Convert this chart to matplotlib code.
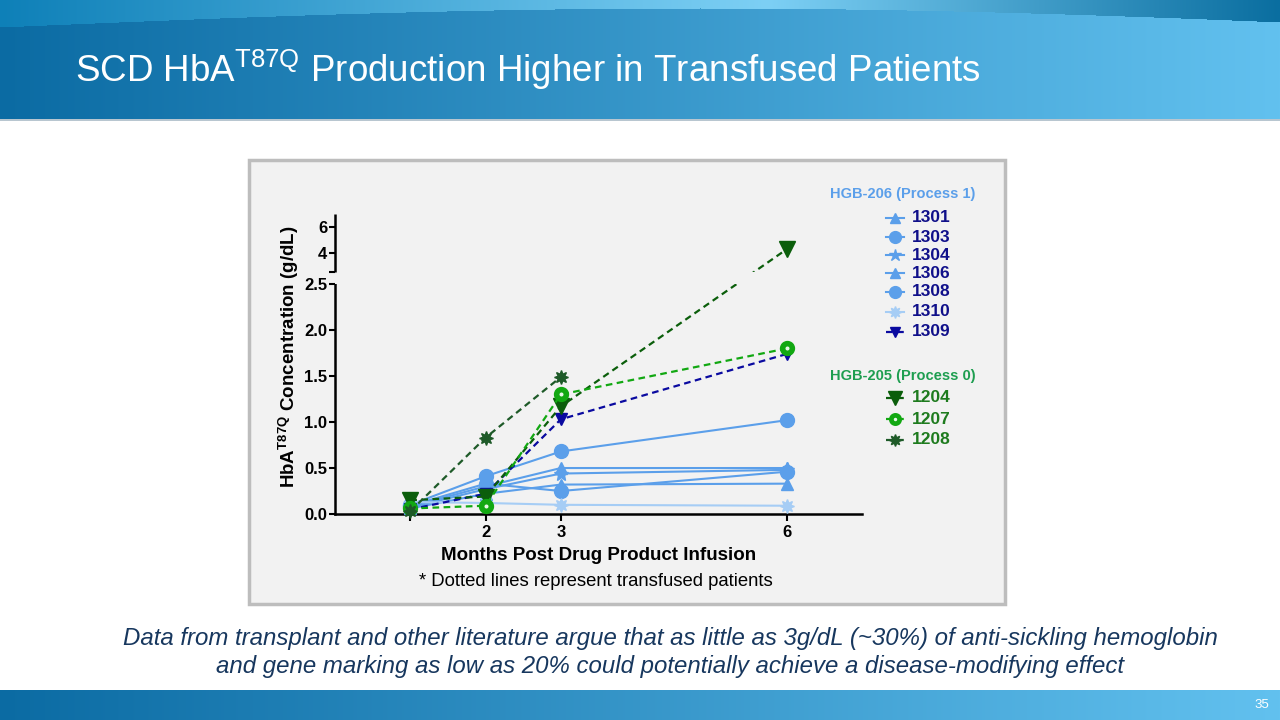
import numpy as np
import matplotlib
matplotlib.use("Agg")
import matplotlib.pyplot as plt
from matplotlib.patches import Rectangle

plt.rcParams['font.family'] = ['Liberation Sans', 'DejaVu Sans']

# ---------------- data ----------------
months = [1, 2, 3, 6]
x_ticks = [1, 2, 3, 6]
x_ticklabels = ['', '2', '3', '6']
y_ticks = [0.0, 0.5, 1.0, 1.5, 2.0, 2.5, 4, 6]
y_ticklabels = ['0.0', '0.5', '1.0', '1.5', '2.0', '2.5', '4', '6']

v1301 = [0.08, 0.30, 0.50, 0.50]
v1303 = [0.10, 0.41, 0.68, 1.02]
v1304 = [0.07, 0.27, 0.44, 0.48]
v1306 = [0.06, 0.22, 0.32, 0.33]
v1308 = [0.09, 0.33, 0.25, 0.46]
v1310 = [0.13, 0.12, 0.10, 0.09]
v1309 = [0.05, 0.22, 1.03, 1.74]

v1204 = [0.15, 0.19, 1.17, 4.3]
v1207 = [0.06, 0.09, 1.30, 1.80]
v1208 = [0.03, 0.83, 1.49]
m1208 = [1, 2, 3]

# ---------------- styles ----------------
LB = '#5B9FEA'
LB2 = '#A6CDF5'
NAVY = '#0A0AA0'
DG = '#0B5E0B'
BG = '#12A812'
DG2 = '#1E5A28'
DASH = (0, (3, 2))

series = [
    ('1301', months, v1301, dict(color=LB, marker='^', ms=9, ls='-', lw=1.5)),
    ('1303', months, v1303, dict(color=LB, marker='o', ms=10, ls='-', lw=1.5)),
    ('1304', months, v1304, dict(color=LB, marker='*', ms=11, ls='-', lw=1.5)),
    ('1306', months, v1306, dict(color=LB, marker='^', ms=9, ls='-', lw=1.5)),
    ('1308', months, v1308, dict(color=LB, marker='o', ms=10, ls='-', lw=1.5)),
    ('1310', months, v1310, dict(color=LB2, marker=(8, 1, 0), ms=10, ls='-', lw=1.5)),
    ('1309', months, v1309, dict(color=NAVY, marker='v', ms=9, ls=DASH, lw=1.6)),
    ('1204', months, v1204, dict(color=DG, marker='v', ms=12, ls=DASH, lw=1.6)),
    ('1207', months, v1207, dict(color=BG, marker='o', ms=7, mfc='#E8F8E8', mew=4, ls=DASH, lw=1.6)),
    ('1208', m1208, v1208, dict(color=DG2, marker=(8, 1, 0), ms=10, ls=DASH, lw=1.6)),
]

W, H = 1280, 720
fig = plt.figure(figsize=(12.8, 7.2), dpi=100)
fig.patch.set_facecolor('white')

# ---------------- background (header / footer / panel) ----------------
bg = fig.add_axes([0, 0, 1, 1], zorder=0)
bg.set_xlim(0, W)
bg.set_ylim(H, 0)
bg.axis('off')

xs = np.linspace(0, 1, W)
c_left = np.array([11, 107, 163]) / 255
c_right = np.array([98, 193, 239]) / 255
main = c_left[None, :] * (1 - xs[:, None]) + c_right[None, :] * xs[:, None]
tl = np.array([14, 128, 184]) / 255
tm = np.array([125, 208, 245]) / 255
tr = np.array([10, 110, 160]) / 255
top = np.where((xs < 0.6)[:, None],
               tl[None, :] * (1 - xs[:, None] / 0.6) + tm[None, :] * (xs[:, None] / 0.6),
               tm[None, :] * (1 - (xs[:, None] - 0.6) / 0.4) + tr[None, :] * ((xs[:, None] - 0.6) / 0.4))
hh = 120
img = np.zeros((hh, W, 3))
px = np.arange(W)
boundary = 27 - 19 * np.sin(np.pi * np.clip(px / 1400, 0, 1))
for yy in range(hh):
    mask = yy < boundary
    img[yy] = np.where(mask[:, None], top, main)
bg.imshow(img, extent=(0, W, hh, 0), aspect='auto', interpolation='bilinear')
bg.imshow(main[None, :, :], extent=(0, W, H, 690), aspect='auto')
bg.add_patch(Rectangle((0, 119), W, 2, color='#B8C6D0', lw=0))

bg.text(75, 70, r'SCD HbA$^{\mathregular{T87Q}}$ Production Higher in Transfused Patients',
        color='white', fontsize=26.5, va='center', ha='left')
bg.text(1262, 705, '35', color='white', fontsize=9.5, ha='center', va='center')

# chart panel
bg.add_patch(Rectangle((249, 160), 756, 444, facecolor='#F2F2F2', edgecolor='#BDBDBD', lw=2.5))

bg.text(670, 638, 'Data from transplant and other literature argue that as little as 3g/dL (~30%) of anti-sickling hemoglobin',
        color='#17375E', fontsize=17.3, style='italic', ha='center', va='center')
bg.text(670, 667, 'and gene marking as low as 20% could potentially achieve a disease-modifying effect',
        color='#17375E', fontsize=17.3, style='italic', ha='center', va='center')

# ---------------- chart ----------------
L, R, B, T = 335, 862, 514, 214
ax = fig.add_axes([L / W, 1 - B / H, (R - L) / W, (B - T) / H], zorder=2)
ax.set_facecolor('none')

g = 12 / 91.6
k = 13 / 91.6
xp = np.array([0.0, 2.5, 2.55, 7.0])
fp = np.array([0.0, 2.5, 2.5 + g, 2.5 + g + (7.0 - 2.55) * k])


def fwd(v):
    v = np.asarray(v, dtype=float)
    return np.where(v < 0, v, np.where(v > 7, fp[-1] + (v - 7) * k, np.interp(v, xp, fp)))


def inv(t):
    t = np.asarray(t, dtype=float)
    return np.where(t < 0, t, np.where(t > fp[-1], 7 + (t - fp[-1]) / k, np.interp(t, fp, xp)))


ax.set_yscale('function', functions=(fwd, inv))

for name, xv, yv, st in series:
    ax.plot(xv, yv, zorder=3, clip_on=False, **st)

ax.set_xlim(0, 7)
ax.set_ylim(0, 7)

# mask the broken region
ax.axhspan(2.5, 2.55, color='#F2F2F2', zorder=4, lw=0)

ax.spines['top'].set_visible(False)
ax.spines['right'].set_visible(False)
ax.spines['left'].set_bounds(0, 2.5)
for s in ['left', 'bottom']:
    ax.spines[s].set_linewidth(1.8)
ax.plot([0, 0], [2.55, 7.0], transform=ax.get_yaxis_transform(), color='black',
        lw=1.8, clip_on=False, zorder=5, solid_capstyle='butt')

ax.set_yticks(y_ticks)
ax.set_yticklabels(y_ticklabels)
ax.set_yticks([2.55], minor=True)
ax.tick_params(axis='y', which='minor', length=4, width=1.5)
ax.set_xticks(x_ticks)
ax.set_xticklabels(x_ticklabels)
ax.tick_params(axis='y', which='major', length=4, width=1.5, labelsize=12, pad=1.5)
ax.tick_params(axis='x', which='major', length=5, width=1.5, labelsize=12, pad=3)
for lab in ax.get_xticklabels() + ax.get_yticklabels():
    lab.set_fontweight('bold')

ax.set_ylabel(r'HbA$^{\mathregular{T87Q}}$ Concentration (g/dL)', fontsize=13.5, fontweight='bold')
ax.yaxis.set_label_coords(-0.064, 0.523)
ax.set_xlabel('Months Post Drug Product Infusion', fontsize=13.5, fontweight='bold', labelpad=5)

bg.text(596, 581, '* Dotted lines represent transfused patients', fontsize=13.3, ha='center', va='center', color='black')

# ---------------- legend ----------------
bg.text(903, 194, 'HGB-206 (Process 1)', color='#5B9FEA', fontsize=10.5, fontweight='bold', ha='center', va='center')
bg.text(903, 376, 'HGB-205 (Process 0)', color='#1E9E50', fontsize=10.5, fontweight='bold', ha='center', va='center')
leg_y = [218, 237, 255, 273, 292, 312, 332, 398, 419, 440]
for (name, xv, yv, st), yy in zip(series, leg_y):
    st2 = dict(st)
    st2['ms'] = st['ms'] * 0.85
    if 'mew' in st2:
        st2['mew'] = st2['mew'] * 0.85
    line_only = dict(st2)
    line_only['marker'] = None
    bg.plot([886, 904], [yy, yy], **line_only)
    st3 = dict(st2)
    st3['ls'] = 'none'
    bg.plot([895], [yy], **st3)
    col = '#10108A' if name.startswith('13') else '#1E7B1E'
    bg.text(912, yy, name, color=col, fontsize=12.5, fontweight='bold', ha='left', va='center')

fig.savefig('out.png', dpi=100, facecolor='white')
